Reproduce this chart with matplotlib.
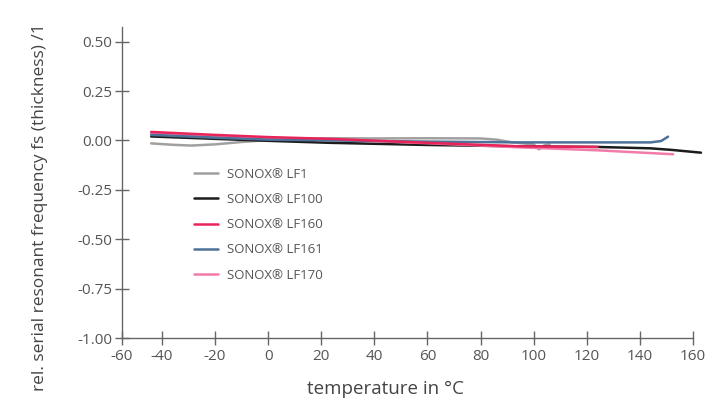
import numpy as np
from matplotlib import pyplot as plt

plt.rcParams['font.family'] = ['Open Sans', 'DejaVu Sans']

# curves (temperature in degC, rel. change)
lf1_t = [-44, -36, -29, -20, -10, 0, 12, 25, 40, 60, 80, 86, 92, 100, 102, 104, 106]
lf1_y = [-0.015, -0.022, -0.026, -0.020, -0.008, 0.002, 0.010, 0.011, 0.010, 0.011, 0.010, 0.004, -0.010, -0.020, -0.045, -0.025, -0.020]

lf100_t = [-44, -20, 0, 23, 60, 95, 124, 144, 152, 163]
lf100_y = [0.020, 0.008, -0.002, -0.012, -0.023, -0.030, -0.033, -0.040, -0.048, -0.062]

lf160_t = [-44, -20, 0, 23, 60, 95, 124]
lf160_y = [0.043, 0.028, 0.017, 0.008, -0.012, -0.030, -0.033]

lf161_t = [-44, -20, 0, 23, 60, 95, 120, 144, 148, 150.6]
lf161_y = [0.028, 0.014, 0.004, 0.000, -0.006, -0.010, -0.010, -0.010, -0.003, 0.019]

lf170_t = [-44, -20, 0, 23, 60, 95, 124, 152.5]
lf170_y = [0.035, 0.022, 0.012, 0.005, -0.014, -0.035, -0.050, -0.070]

names = ['SONOX\u00ae LF1', 'SONOX\u00ae LF100', 'SONOX\u00ae LF160',
         'SONOX\u00ae LF161', 'SONOX\u00ae LF170']
colors = ['#a0a0a0', '#1c1c1c', '#e8245a', '#4d7199', '#f27ba9']

x_ticks = [-55, -40, -20, 0, 20, 40, 60, 80, 100, 120, 140, 160]
x_labels = ['-60', '-40', '-20', '0', '20', '40', '60', '80', '100', '120', '140', '160']
y_ticks = [0.5, 0.25, 0.0, -0.25, -0.5, -0.75, -1.0]
y_labels = ['0.50', '0.25', '0.00', '-0.25', '-0.50', '-0.75', '-1.00']

fig = plt.figure(figsize=(7.06, 4.05), dpi=100)
ax = fig.add_axes([0.1728, 0.1654, 0.8088, 0.7679])

series = [(lf1_t, lf1_y), (lf100_t, lf100_y), (lf160_t, lf160_y),
          (lf161_t, lf161_y), (lf170_t, lf170_y)]
order = [0, 1, 4, 3, 2]
lines = {}
for i in order:
    t, y = series[i]
    ln, = ax.plot(t, y, color=colors[i], lw=1.8, label=names[i],
                  solid_capstyle='round', clip_on=False)
    lines[i] = ln

ax.set_xlim(-55, 160)
ax.set_ylim(-1.0, 0.574)
ax.set_xticks(x_ticks)
ax.set_xticklabels(x_labels)
ax.set_yticks(y_ticks)
ax.set_yticklabels(y_labels)

for s in ['top', 'right']:
    ax.spines[s].set_visible(False)
for s in ['left', 'bottom']:
    ax.spines[s].set_color('#666666')
    ax.spines[s].set_linewidth(1.0)
ax.tick_params(direction='inout', length=10, width=1.0, color='#666666',
               labelcolor='#555555', labelsize=11)
ax.tick_params(axis='x', pad=3)
ax.tick_params(axis='y', pad=2)

ax.set_xlabel('temperature in \u00b0C', fontsize=13.5, color='#444444')
ax.xaxis.set_label_coords(0.462, -0.135)
ax.set_ylabel('rel. serial resonant frequency fs (thickness) /1', fontsize=12.5,
              color='#444444')
ax.yaxis.set_label_coords(-0.13, 0.42)

leg = ax.legend([lines[i] for i in range(5)], names, loc='upper left',
                bbox_to_anchor=(0.105, 0.585), frameon=False, fontsize=9.5,
                handlelength=1.8, handletextpad=0.75, labelspacing=0.92,
                labelcolor='#555555')

fig.savefig('out.png', dpi=100)
